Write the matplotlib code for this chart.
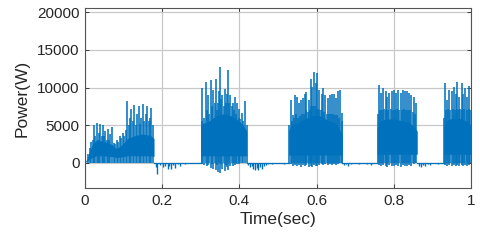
import numpy as np
import matplotlib
matplotlib.use("Agg")
import matplotlib.pyplot as plt

plt.rcParams['font.family'] = ['Liberation Sans', 'DejaVu Sans']

# ---------------- data ----------------
# dense band (envelope of the fast oscillation) per burst
b1_t  = [0.000, 0.006, 0.012, 0.020, 0.030, 0.050, 0.070, 0.080, 0.090, 0.100, 0.110, 0.130, 0.150, 0.170, 0.179]
b1_hi = [0,     600,   1500,  2500,  3000,  2800,  2400,  1900,  2100,  2600,  3200,  3600,  3800,  3600,  3200]
b1_lo = [0,     200,   400,   700,   900,   900,   800,   700,   700,   800,   900,   900,   900,   900,   800]

b2_t  = [0.300, 0.305, 0.320, 0.340, 0.360, 0.380, 0.400, 0.410, 0.419]
b2_hi = [5000,  5200,  5500,  6200,  6500,  6200,  5500,  5000,  4200]
b2_lo = [900,   900,   900,   900,   900,   900,   900,   900,   900]

b3_t  = [0.528, 0.533, 0.550, 0.570, 0.590, 0.610, 0.630, 0.650, 0.667]
b3_hi = [4200,  5000,  5300,  5800,  6300,  6200,  5600,  5200,  3800]
b3_lo = [1000,  1000,  1000,  1000,  1000,  1000,  1000,  1000,  1000]

b4_t  = [0.757, 0.762, 0.780, 0.800, 0.820, 0.840, 0.861]
b4_hi = [4500,  5500,  5800,  5800,  5600,  5400,  4200]
b4_lo = [1100,  1100,  1100,  1100,  1100,  1100,  1100]

b5_t  = [0.930, 0.935, 0.950, 0.970, 0.990, 1.000]
b5_hi = [4600,  5500,  5900,  5900,  5500,  5000]
b5_lo = [1100,  1100,  1100,  1100,  1100,  1100]

# spikes: time, peak value, trough value
s1_t  = [0.008, 0.012, 0.016, 0.020, 0.024, 0.027, 0.030, 0.033, 0.036, 0.040, 0.043, 0.046, 0.050, 0.053, 0.056,
         0.060, 0.063, 0.066, 0.070, 0.074, 0.078, 0.082, 0.086, 0.090, 0.094, 0.098, 0.102, 0.106, 0.110, 0.113,
         0.117, 0.120, 0.124, 0.128, 0.131, 0.135, 0.139, 0.142, 0.146, 0.150, 0.154, 0.158, 0.161, 0.165, 0.169,
         0.172, 0.176]
s1_pk = [1200, 2000, 2800, 3000, 5000, 3500, 5300, 3000, 4000, 5200, 3500, 5000, 3500, 4200, 3000,
         4500, 3000, 3800, 4700, 2600, 2500, 3000, 2800, 3500, 3300, 4000, 3600, 4300, 8200, 5000,
         6000, 7200, 5500, 7700, 5000, 6500, 7600, 5200, 6000, 7800, 5500, 6500, 7500, 5500, 6000,
         7300, 5000]
s1_tr = [0, 0, 0, -100, 0, -100, 0, 0, -100, 0, 0, -100, 0, 0, -100,
         0, 0, -100, 0, 0, -100, 0, 0, -100, 0, 0, -100, 0, 0, -100,
         0, 0, -100, 0, 0, -100, 0, 0, -100, 0, 0, -100, 0, 0, -100,
         0, 0]

s2_t  = [0.302, 0.304, 0.308, 0.313, 0.316, 0.319, 0.322, 0.326, 0.329, 0.332, 0.336, 0.339, 0.342, 0.344, 0.347,
         0.350, 0.353, 0.356, 0.359, 0.363, 0.365, 0.367, 0.371, 0.374, 0.377, 0.380, 0.383, 0.386, 0.389, 0.392,
         0.395, 0.398, 0.400, 0.403, 0.406, 0.410, 0.415, 0.419]
s2_pk = [5500, 9900, 6000, 10800, 7000, 9000, 6500, 11000, 7500, 9700, 8000, 11100, 7000, 8000, 9500,
         12700, 8500, 9000, 7500, 9800, 8000, 9200, 12300, 8000, 9000, 7500, 8000, 7000, 8800, 6500,
         8000, 6000, 7200, 5800, 6600, 5500, 8200, 5000]
s2_tr = [-200, 0, -300, 0, -500, -300, 0, -700, -200, -800, 0, -1000, -300, -1200, 0,
         -1400, -200, -900, 0, -1100, -300, -600, -1000, 0, -500, 0, -400, 0, -300, 0,
         -200, 0, -200, 0, -100, 0, 0, 0]

s3_t  = [0.530, 0.533, 0.536, 0.538, 0.541, 0.544, 0.547, 0.550, 0.553, 0.555, 0.558, 0.560, 0.562, 0.564, 0.567,
         0.570, 0.572, 0.574, 0.577, 0.580, 0.583, 0.585, 0.587, 0.589, 0.591, 0.593, 0.596, 0.598, 0.600, 0.602,
         0.605, 0.607, 0.610, 0.613, 0.615, 0.617, 0.620, 0.623, 0.626, 0.629, 0.632, 0.635, 0.637, 0.639, 0.642,
         0.645, 0.648, 0.650, 0.653, 0.656, 0.659, 0.662, 0.665, 0.667]
s3_pk = [5000, 8300, 5500, 6300, 6000, 9000, 6500, 8800, 6000, 7900, 6200, 8300, 6500, 8600, 6500,
         9200, 7000, 9400, 6800, 8300, 7000, 11200, 7500, 10100, 7500, 12100, 7500, 10600, 7000, 11900,
         7200, 9700, 7000, 9200, 7000, 9900, 6800, 9000, 6500, 8600, 6500, 9000, 6500, 9200, 6500,
         9200, 6300, 8600, 6300, 9500, 6000, 9700, 5500, 6600]
s3_tr = [0, -200, 0, -400, 0, -300, 0, -500, 0, -300, 0, -600, 0, -300, 0,
         -500, 0, -300, 0, -600, 0, -400, 0, -600, 0, -300, 0, -500, 0, -400,
         0, -300, 0, -200, 0, -300, 0, -200, 0, -300, 0, -200, 0, -300, 0,
         -200, 0, -300, 0, -200, 0, -100, 0, 0]

s4_t  = [0.759, 0.762, 0.765, 0.767, 0.770, 0.773, 0.776, 0.779, 0.781, 0.783, 0.786, 0.788, 0.792, 0.795, 0.798,
         0.801, 0.804, 0.806, 0.809, 0.812, 0.815, 0.818, 0.821, 0.823, 0.826, 0.829, 0.832, 0.835, 0.838, 0.840,
         0.843, 0.846, 0.849, 0.852, 0.856, 0.859]
s4_pk = [6500, 10300, 7000, 9250, 7000, 9900, 7200, 9500, 7000, 8800, 7000, 9250, 7200, 9500, 7000,
         9670, 7000, 9250, 7200, 9670, 7000, 9250, 7000, 9670, 7200, 9500, 7000, 9500, 7000, 9250,
         7000, 9000, 6800, 8800, 6500, 7900]
s4_tr = [0, -300, 0, -500, 0, -300, 0, -400, 0, -600, 0, -300, 0, -400, 0,
         -500, 0, -300, 0, -400, 0, -600, 0, -300, 0, -400, 0, -500, 0, -300,
         0, -400, 0, -200, 0, 0]

s5_t  = [0.931, 0.933, 0.936, 0.939, 0.942, 0.944, 0.947, 0.950, 0.953, 0.956, 0.959, 0.961, 0.963, 0.965, 0.968,
         0.970, 0.973, 0.976, 0.978, 0.980, 0.983, 0.986, 0.989, 0.991, 0.994, 0.996, 0.999]
s5_pk = [6000, 10640, 7000, 8300, 7200, 9700, 7000, 9500, 7200, 10100, 7000, 9200, 7200, 10780, 7000,
         8800, 7200, 10560, 7000, 9200, 7200, 9900, 7000, 8800, 7200, 10200, 7000]
s5_tr = [0, -300, 0, -500, 0, -300, 0, -400, 0, -300, 0, -500, 0, -300, 0,
         -400, 0, -300, 0, -500, 0, -300, 0, -400, 0, -300, 0]

# inter-burst intervals: baseline near 0 with small negative dips
g_start = [0.179, 0.419, 0.667, 0.861]
g_end   = [0.300, 0.528, 0.757, 0.930]
d_t = [0.183, 0.187, 0.195, 0.203, 0.208, 0.214, 0.219, 0.224, 0.229, 0.234, 0.240, 0.246, 0.252, 0.260, 0.270, 0.280, 0.290,
       0.423, 0.428, 0.432, 0.436, 0.440, 0.445, 0.449, 0.454, 0.458, 0.463, 0.468, 0.475, 0.485, 0.495, 0.505, 0.515, 0.525,
       0.671, 0.676, 0.682, 0.690, 0.700, 0.710, 0.720, 0.730, 0.740, 0.750,
       0.865, 0.870, 0.875, 0.880, 0.888, 0.895, 0.905, 0.915, 0.925]
d_v = [-600, -1500, -300, -600, -400, -800, -500, -900, -300, -700, -200, -400, -100, -200, -100, -100, -50,
       -300, -600, -400, -900, -1000, -700, -1000, -600, -800, -400, -300, -200, -150, -100, -100, -150, -100,
       -300, -200, -400, -200, -100, -200, -100, -200, -300, -100,
       -400, -600, -300, -500, -200, -300, -100, -200, -100]

x_ticks = [0, 0.2, 0.4, 0.6, 0.8, 1.0]
x_ticklabels = ["0", "0.2", "0.4", "0.6", "0.8", "1"]
y_ticks = [0, 5000, 10000, 15000, 20000]

# ---------------- drawing ----------------
BLUE = '#0072BD'
fig = plt.figure(figsize=(4.8, 2.42), dpi=100)
ax = fig.add_axes([0.177, 0.223, 0.804, 0.744])

for bt, lo, hi in [(b1_t, b1_lo, b1_hi), (b2_t, b2_lo, b2_hi), (b3_t, b3_lo, b3_hi),
                   (b4_t, b4_lo, b4_hi), (b5_t, b5_lo, b5_hi)]:
    ax.fill_between(bt, lo, hi, color=BLUE, lw=0, zorder=3)

for st, pk, tr in [(s1_t, s1_pk, s1_tr), (s2_t, s2_pk, s2_tr), (s3_t, s3_pk, s3_tr),
                   (s4_t, s4_pk, s4_tr), (s5_t, s5_pk, s5_tr)]:
    ax.vlines(st, tr, pk, color=BLUE, lw=1.25, alpha=0.9, zorder=3)

for a, b in zip(g_start, g_end):
    ax.plot([a, b], [0, 0], color=BLUE, lw=0.9, zorder=3)
ax.vlines(d_t, d_v, 0, color=BLUE, lw=1.0, zorder=3)

ax.set_xlim(0, 1)
ax.set_ylim(-3400, 20600)
ax.set_xticks(x_ticks)
ax.set_xticklabels(x_ticklabels)
ax.set_yticks(y_ticks)
ax.grid(True, color='#c8c8c8', lw=0.9, zorder=0)
ax.set_axisbelow(True)
ax.tick_params(direction='in', length=3, width=0.6, colors='#262626', labelsize=11, labelcolor='#262626', pad=4)
ax.tick_params(top=True, right=True)
for s in ax.spines.values():
    s.set_color('#555555')
    s.set_linewidth(0.8)
ax.set_xlabel('Time(sec)', fontsize=12.5, color='#262626', labelpad=3)
ax.set_ylabel('Power(W)', fontsize=12.5, color='#262626', labelpad=5)

fig.savefig('out.png', dpi=100)
